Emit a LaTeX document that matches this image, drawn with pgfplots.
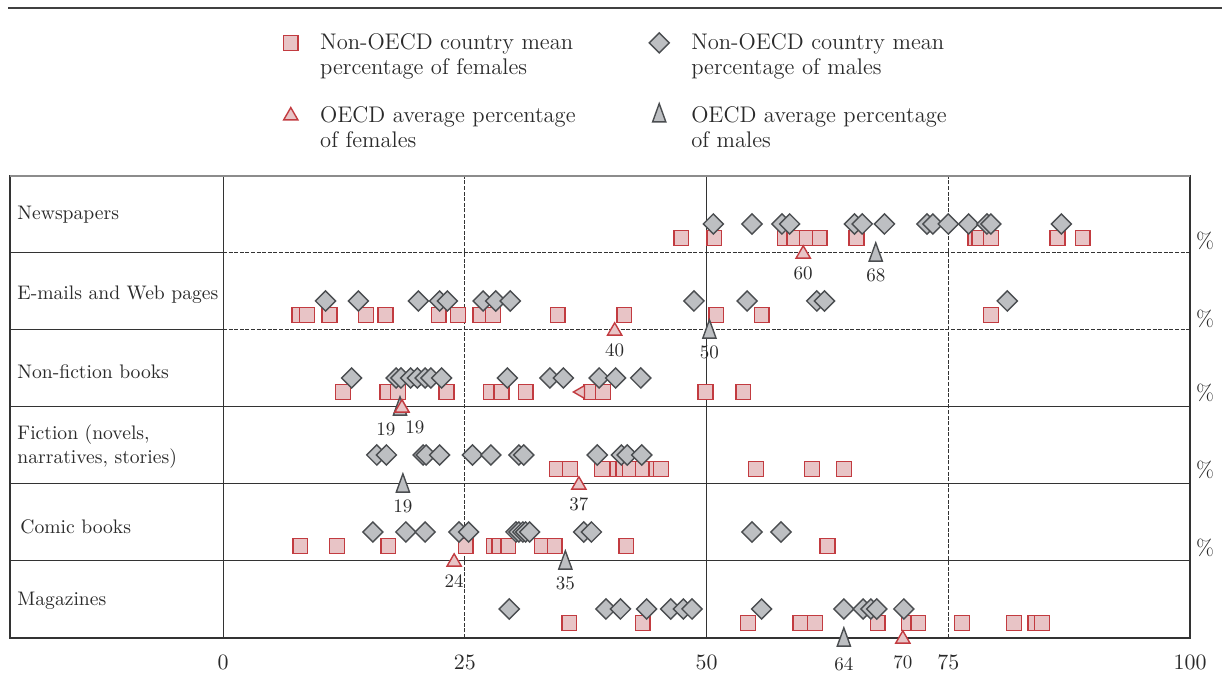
\documentclass[border=0pt]{standalone}
\usepackage{pgfplots}
\usepackage{pgfplotstable}
\pgfplotsset{compat=1.18}
\definecolor{sqline}{HTML}{C23B40}
\definecolor{sqfill}{HTML}{E8C4C6}
\definecolor{dmline}{HTML}{4A4D50}
\definecolor{dmfill}{HTML}{BDBFC2}
\definecolor{gridc}{HTML}{333333}
\definecolor{txt}{HTML}{2A2A2A}

% Non-OECD country mean percentage of females (x = %, y = vertical position)
\pgfplotstableread{
x y
47.4 400
50.8 400
58.1 400
59.1 400
60.4 400
61.7 400
65.5 400
77.8 400
78.2 400
79.4 400
86.3 400
88.9 400
7.9 323
8.7 323
11.0 323
14.8 323
16.8 323
22.3 323
24.3 323
26.6 323
27.9 323
34.6 323
41.5 323
51.0 323
55.7 323
79.4 323
12.4 246
17.0 246
18.1 246
23.1 246
27.7 246
28.8 246
31.3 246
38.1 246
39.3 246
49.9 246
53.8 246
34.5 169
35.9 169
39.2 169
40.8 169
41.4 169
42.1 169
43.4 169
44.8 169
45.3 169
55.1 169
60.9 169
64.2 169
8.0 92
11.8 92
17.1 92
25.1 92
28.0 92
28.6 92
29.5 92
33.0 92
34.3 92
41.7 92
62.5 92
35.8 15
43.4 15
54.3 15
59.7 15
61.2 15
67.7 15
70.9 15
71.9 15
76.4 15
81.8 15
84.0 15
84.7 15
}\females

% Non-OECD country mean percentage of males
\pgfplotstableread{
x y
50.7 414
54.7 414
57.8 414
58.6 414
65.3 414
66.1 414
68.4 414
72.8 414
73.4 414
75.0 414
77.1 414
79.0 414
79.4 414
86.7 414
10.6 337
14.0 337
20.2 337
22.4 337
23.2 337
26.9 337
28.2 337
29.7 337
48.7 337
54.2 337
61.4 337
62.2 337
81.1 337
13.3 260
17.9 260
18.4 260
19.4 260
20.1 260
20.9 260
21.5 260
22.6 260
29.4 260
33.8 260
35.2 260
38.9 260
40.6 260
43.2 260
15.9 183
16.9 183
20.7 183
21.0 183
22.4 183
25.8 183
27.7 183
30.6 183
31.1 183
38.7 183
41.2 183
41.8 183
43.3 183
15.5 106
18.9 106
20.9 106
24.4 106
25.4 106
30.3 106
30.6 106
31.0 106
31.3 106
31.7 106
37.3 106
38.1 106
54.7 106
57.7 106
29.6 29
39.6 29
41.1 29
43.8 29
46.3 29
47.6 29
48.5 29
55.7 29
64.2 29
66.2 29
67.0 29
67.6 29
70.4 29
}\males

% OECD average percentage of females
\pgfplotstableread{
x y lab dx dy
60.0 384 60 0 -9.5
40.5 307 40 0 -9.5
18.5 230 19 6.5 -9.5
36.8 153 37 0 -9.5
23.9 76 24 0 -9.5
70.3 -1 70 0 -11.5
}\oecdf

% OECD average percentage of males
\pgfplotstableread{
x y lab dx dy
67.5 383 68 0 -10
50.3 306 50 0 -10
18.3 229 19 -7 -10
18.6 152 19 0 -10
35.4 75 35 0 -10
64.2 -2 64 0 -12
}\oecdm

\begin{document}
\begin{tikzpicture}
\useasboundingbox (0,0) rectangle (611pt,337pt);
\draw[line width=1pt, black!75] (4pt,333pt) -- (611pt,333pt);
\begin{axis}[
  at={(5pt,18pt)}, anchor=south west,
  x=4.835pt, y=0.5pt,
  xmin=-22.03, xmax=100, ymin=0, ymax=462,
  axis line style={draw=gridc, line width=0.6pt},
  xtick={0,25,50,75,100}, ytick=\empty,
  major tick length=0pt,
  xticklabel style={anchor=center, yshift=-12pt, font=\fontsize{11}{11}\selectfont, text=txt},
  clip=false,
  legend cell align=left,
  legend columns=2,
  legend style={draw=none, fill=none, at={(axis cs:6.2,611)}, anchor=north west,
    inner sep=0pt, row sep=21pt,
    nodes={font=\fontsize{11.3}{12.5}\selectfont, text=txt, align=left, text width=150pt, inner sep=3pt},
    /tikz/every even column/.append style={column sep=11.5pt},
    /tikz/every odd column/.append style={column sep=8pt}},
]
% grid / table lines
\draw[gridc, line width=0.5pt] (axis cs:0,0) -- (axis cs:0,462);
\draw[gridc, line width=0.5pt] (axis cs:50,0) -- (axis cs:50,462);
\draw[gridc, line width=0.5pt, dash pattern=on 2pt off 0.8pt] (axis cs:25,0) -- (axis cs:25,462);
\draw[gridc, line width=0.5pt, dash pattern=on 2pt off 0.8pt] (axis cs:75,0) -- (axis cs:75,462);
\draw[gridc, line width=0.5pt] (axis cs:-22.03,77) -- (axis cs:0,77);
\draw[gridc, line width=0.5pt] (axis cs:-22.03,154) -- (axis cs:0,154);
\draw[gridc, line width=0.5pt] (axis cs:-22.03,231) -- (axis cs:0,231);
\draw[gridc, line width=0.5pt] (axis cs:-22.03,308) -- (axis cs:0,308);
\draw[gridc, line width=0.5pt] (axis cs:-22.03,385) -- (axis cs:0,385);
\draw[gridc, line width=0.5pt] (axis cs:0,77) -- (axis cs:100,77);
\draw[gridc, line width=0.5pt] (axis cs:0,154) -- (axis cs:100,154);
\draw[gridc, line width=0.5pt] (axis cs:0,231) -- (axis cs:100,231);
\draw[gridc, line width=0.5pt, dash pattern=on 2pt off 0.8pt] (axis cs:0,308) -- (axis cs:100,308);
\draw[gridc, line width=0.5pt, dash pattern=on 2pt off 0.8pt] (axis cs:0,385) -- (axis cs:100,385);
\draw[black!45, line width=1pt] (axis cs:-22.03,462) -- (axis cs:100,462);

\addplot[only marks, mark=square*, mark size=3.7pt,
  mark options={draw=sqline, fill=sqfill, line width=0.7pt}]
  table[x=x, y=y] {\females};
\addlegendentry{Non-OECD country mean\\percentage of females}

\addplot[only marks, mark=square*, mark size=3.55pt,
  mark options={draw=dmline, fill=dmfill, line width=0.7pt, rotate=45}]
  table[x=x, y=y] {\males};
\addlegendentry{Non-OECD country mean\\percentage of males}

\addplot[only marks, mark=triangle*, mark size=4.1pt,
  mark options={draw=sqline, fill=sqfill, line width=0.7pt},
  point meta=explicit symbolic,
  visualization depends on={\thisrow{dx} \as \dx},
  visualization depends on={\thisrow{dy} \as \dy},
  nodes near coords,
  every node near coord/.append style={font=\fontsize{9.5}{9.5}\selectfont, text=txt, anchor=center, xshift=\dx pt, yshift=\dy pt}]
  table[x=x, y=y, meta=lab] {\oecdf};
\addlegendentry{OECD average percentage\\of females}

\addplot[only marks, mark=triangle*, mark size=3.8pt,
  mark options={draw=dmline, fill=dmfill, line width=0.7pt, yscale=1.6},
  point meta=explicit symbolic,
  visualization depends on={\thisrow{dx} \as \dx},
  visualization depends on={\thisrow{dy} \as \dy},
  nodes near coords,
  every node near coord/.append style={font=\fontsize{9.5}{9.5}\selectfont, text=txt, anchor=center, xshift=\dx pt, yshift=\dy pt}]
  table[x=x, y=y, meta=lab] {\oecdm};
\addlegendentry{OECD average percentage\\of males}

% red triangle drawn again on top in the non-fiction row
\addplot[forget plot, only marks, mark=triangle*, mark size=4.1pt,
  mark options={draw=sqline, fill=sqfill, line width=0.7pt}]
  coordinates {(18.5,230)};
% left-pointing marker in the non-fiction row
\addplot[forget plot, only marks, mark=triangle*, mark size=3.7pt,
  mark options={draw=sqline, fill=sqfill, line width=0.7pt, rotate=90}]
  coordinates {(37.0,246)};

% category labels
\node[font=\fontsize{9.8}{12}\selectfont, text=txt, anchor=west, align=left, inner sep=0pt] at (axis cs:-21.3,423) {Newspapers};
\node[font=\fontsize{9.8}{12}\selectfont, text=txt, anchor=west, align=left, inner sep=0pt] at (axis cs:-21.3,343) {E-mails and Web pages};
\node[font=\fontsize{9.8}{12}\selectfont, text=txt, anchor=west, align=left, inner sep=0pt] at (axis cs:-21.3,266) {Non-fiction books};
\node[font=\fontsize{9.8}{12}\selectfont, text=txt, anchor=west, align=left, inner sep=0pt] at (axis cs:-21.3,191) {Fiction (novels,\\narratives, stories)};
\node[font=\fontsize{9.8}{12}\selectfont, text=txt, anchor=west, align=left, inner sep=0pt] at (axis cs:-21.0,111) {Comic books};
\node[font=\fontsize{9.8}{12}\selectfont, text=txt, anchor=west, align=left, inner sep=0pt] at (axis cs:-21.3,37) {Magazines};
\node[font=\fontsize{11}{11}\selectfont, text=txt, anchor=center, inner sep=0pt] at (axis cs:101.55,397) {\%};
\node[font=\fontsize{11}{11}\selectfont, text=txt, anchor=center, inner sep=0pt] at (axis cs:101.55,319) {\%};
\node[font=\fontsize{11}{11}\selectfont, text=txt, anchor=center, inner sep=0pt] at (axis cs:101.55,245) {\%};
\node[font=\fontsize{11}{11}\selectfont, text=txt, anchor=center, inner sep=0pt] at (axis cs:101.55,168) {\%};
\node[font=\fontsize{11}{11}\selectfont, text=txt, anchor=center, inner sep=0pt] at (axis cs:101.55,90) {\%};
\end{axis}
\end{tikzpicture}
\end{document}
